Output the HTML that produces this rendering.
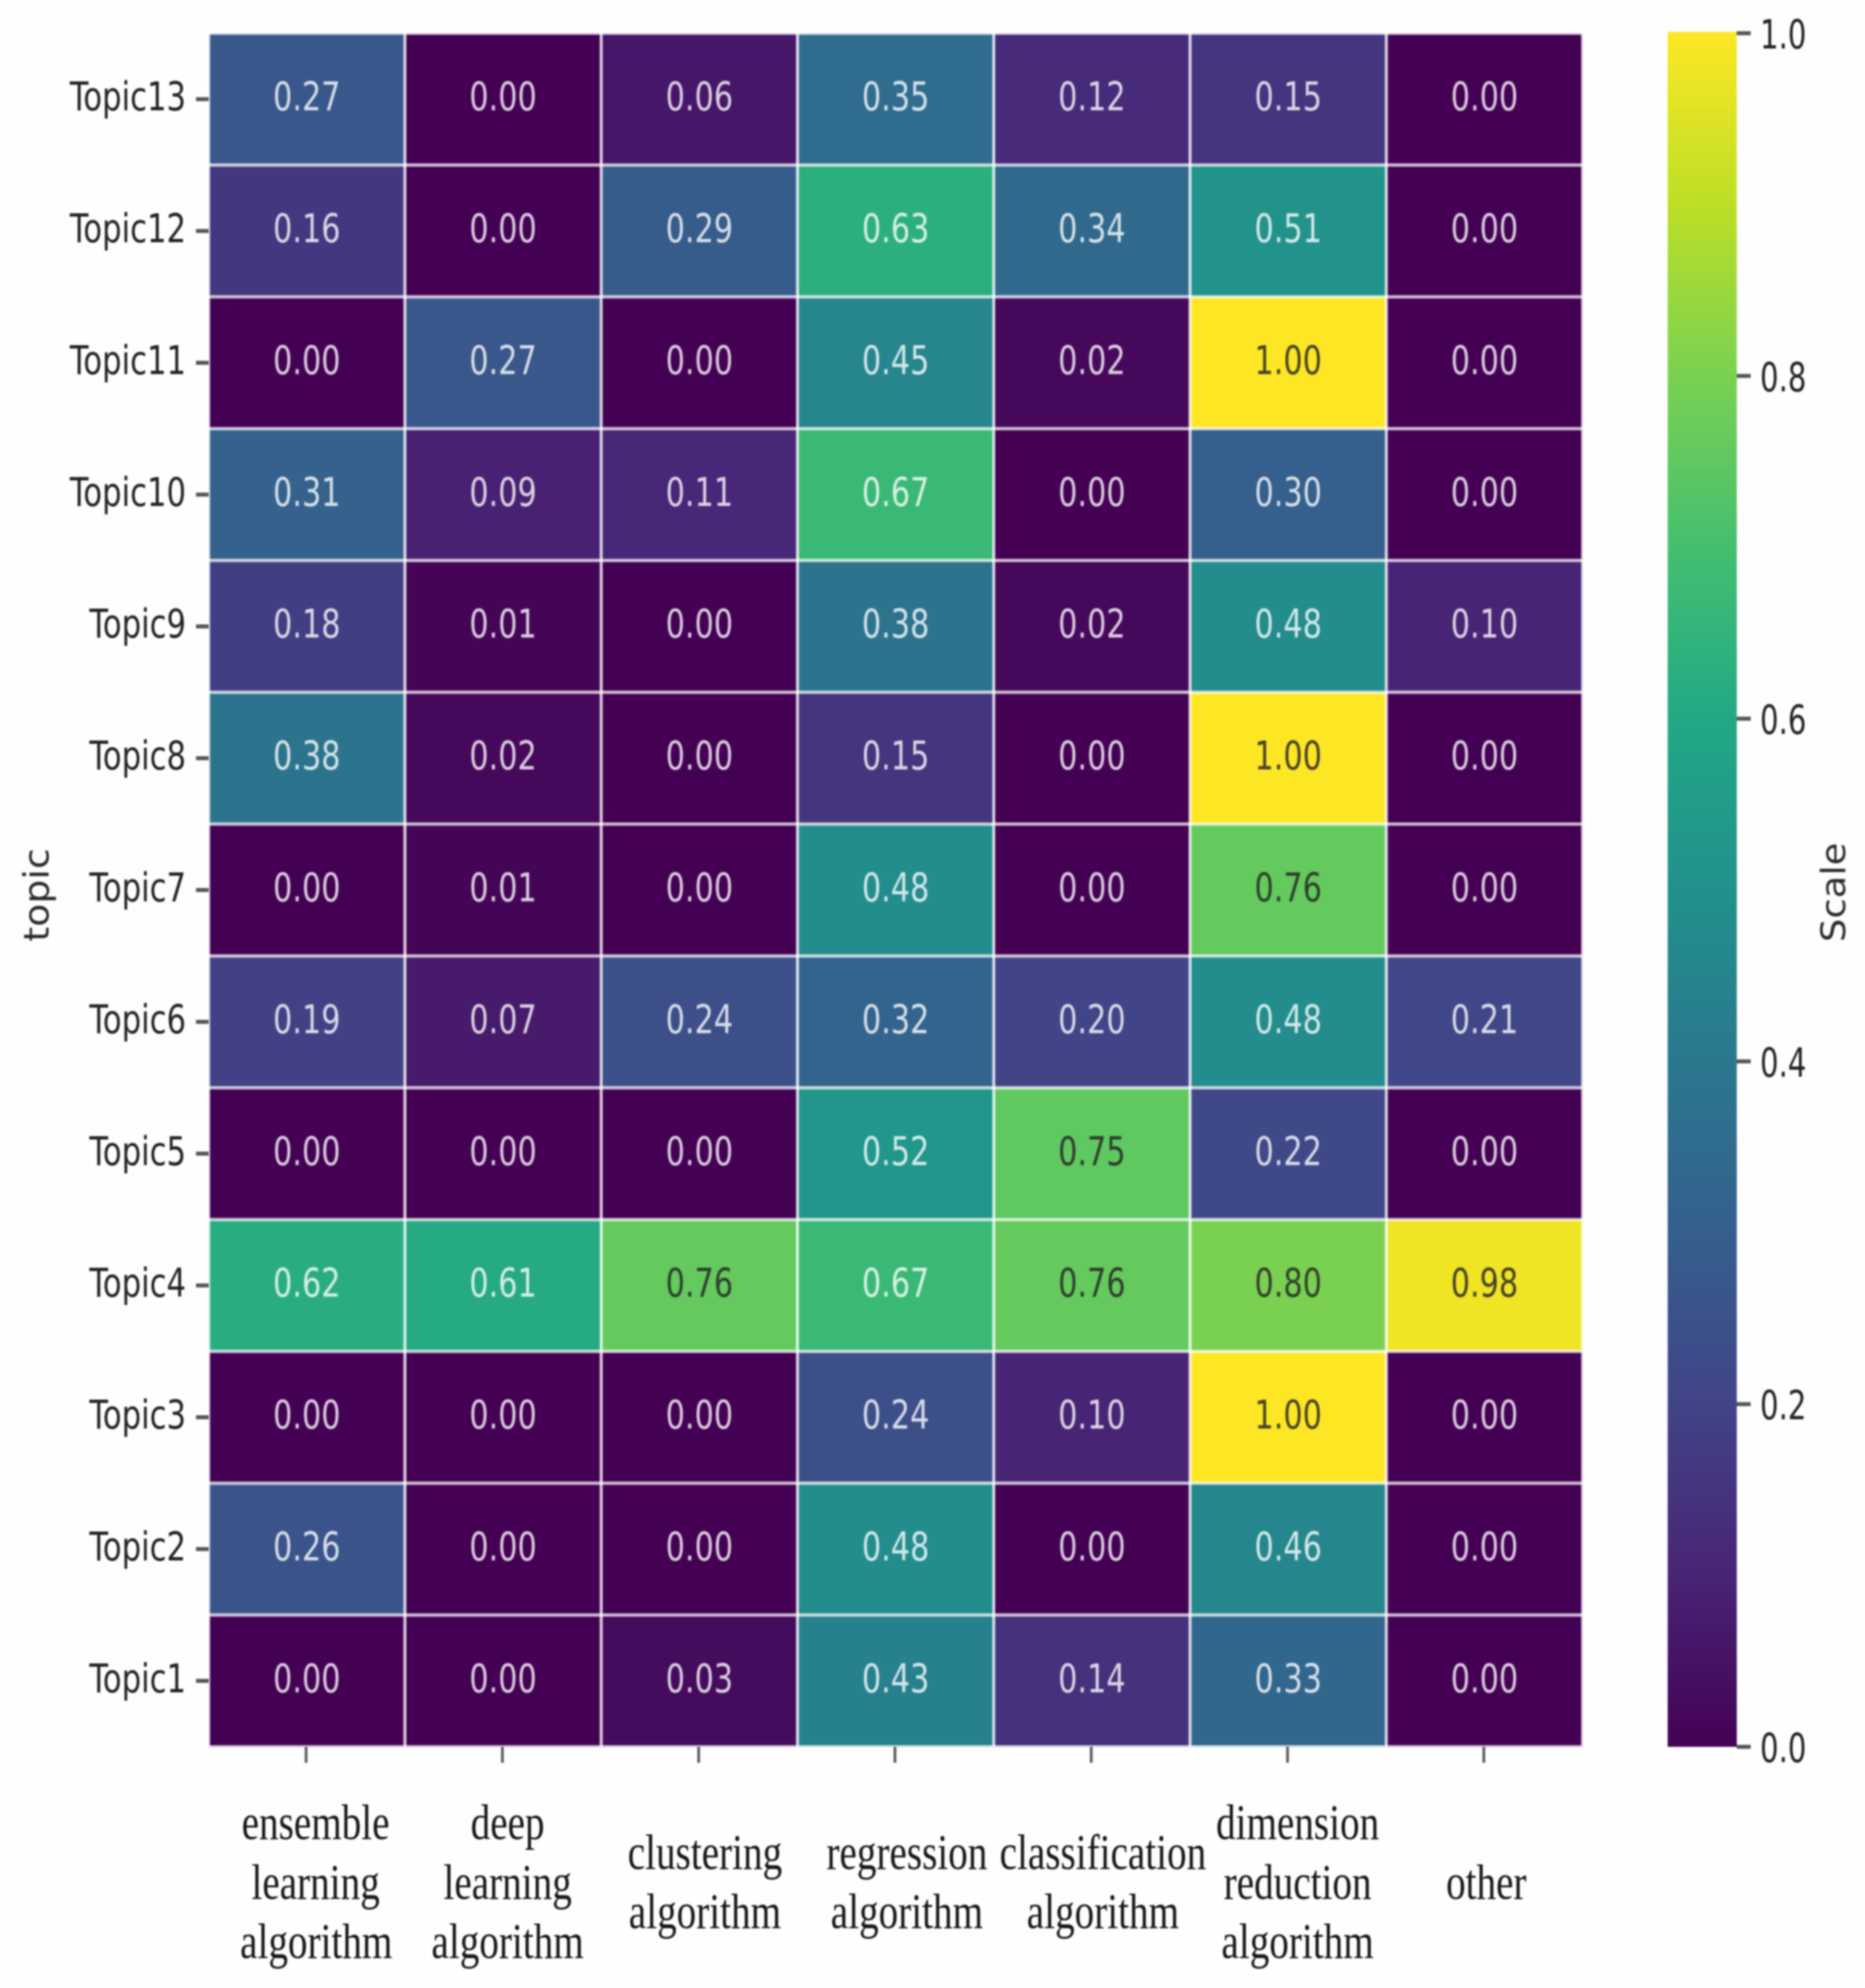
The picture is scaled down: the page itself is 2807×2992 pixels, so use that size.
<!DOCTYPE html>
<html lang="en">
<head>
<meta charset="utf-8">
<title>Topic and algorithm heatmap</title>
<style>
html,body{margin:0;padding:0;background:#fefefe;}
svg{display:block;}
.sans{font-family:"DejaVu Sans","Liberation Sans",sans-serif;}
.serif{font-family:"Liberation Serif","DejaVu Serif",serif;font-size:75px;fill:#161616;text-anchor:middle;}
</style>
</head>
<body>
<svg id="chart" xmlns="http://www.w3.org/2000/svg" width="2807" height="2992" viewBox="0 0 2807 2992">
  <defs>
    <filter id="soft" x="0" y="0" width="2807" height="2992" filterUnits="userSpaceOnUse" color-interpolation-filters="sRGB">
      <feGaussianBlur stdDeviation="1.4"/>
    </filter>
    <linearGradient id="cbar-gradient" x1="0" y1="1" x2="0" y2="0"></linearGradient>
  </defs>
  <g id="plot" filter="url(#soft)">
    <g id="cells"></g>
    <g id="grid"></g>
    <g id="annotations"></g>
    <g id="yaxis"></g>
    <g id="xaxis"></g>
    <g id="colorbar"></g>

    <text class="sans" transform="translate(73,1347) rotate(-90) scale(1,0.93)" font-size="57" fill="#2b2b2b" text-anchor="middle">topic</text>
    <text class="sans" transform="translate(2777,1343) rotate(-90) scale(1,0.91)" font-size="55.7" fill="#2b2b2b" text-anchor="middle">Scale</text>

    <g>
      <g>
        <text class="serif" transform="translate(475,2768) scale(0.786,1)">ensemble</text>
        <text class="serif" transform="translate(475,2858) scale(0.786,1)">learning</text>
        <text class="serif" transform="translate(476,2947) scale(0.786,1)">algorithm</text>
      </g>
      <g>
        <text class="serif" transform="translate(764,2768) scale(0.786,1)">deep</text>
        <text class="serif" transform="translate(764,2858) scale(0.786,1)">learning</text>
        <text class="serif" transform="translate(764,2947) scale(0.786,1)">algorithm</text>
      </g>
      <g>
        <text class="serif" transform="translate(1061,2813) scale(0.786,1)">clustering</text>
        <text class="serif" transform="translate(1061,2902) scale(0.786,1)">algorithm</text>
      </g>
      <g>
        <text class="serif" transform="translate(1365,2813) scale(0.786,1)">regression</text>
        <text class="serif" transform="translate(1365,2902) scale(0.786,1)">algorithm</text>
      </g>
      <g>
        <text class="serif" transform="translate(1660,2813) scale(0.786,1)">classification</text>
        <text class="serif" transform="translate(1660,2902) scale(0.786,1)">algorithm</text>
      </g>
      <g>
        <text class="serif" transform="translate(1953,2768) scale(0.786,1)">dimension</text>
        <text class="serif" transform="translate(1953,2858) scale(0.786,1)">reduction</text>
        <text class="serif" transform="translate(1953,2947) scale(0.786,1)">algorithm</text>
      </g>
      <g>
        <text class="serif" transform="translate(2237,2858) scale(0.786,1)">other</text>
      </g>
    </g>
  </g>
</svg>
<script>
const topics = ["Topic13","Topic12","Topic11","Topic10","Topic9","Topic8","Topic7","Topic6","Topic5","Topic4","Topic3","Topic2","Topic1"];
const algorithms = ["ensemble learning algorithm","deep learning algorithm","clustering algorithm","regression algorithm","classification algorithm","dimension reduction algorithm","other"];
const topic13Values = [0.27,0.00,0.06,0.35,0.12,0.15,0.00];
const topic12Values = [0.16,0.00,0.29,0.63,0.34,0.51,0.00];
const topic11Values = [0.00,0.27,0.00,0.45,0.02,1.00,0.00];
const topic10Values = [0.31,0.09,0.11,0.67,0.00,0.30,0.00];
const topic9Values  = [0.18,0.01,0.00,0.38,0.02,0.48,0.10];
const topic8Values  = [0.38,0.02,0.00,0.15,0.00,1.00,0.00];
const topic7Values  = [0.00,0.01,0.00,0.48,0.00,0.76,0.00];
const topic6Values  = [0.19,0.07,0.24,0.32,0.20,0.48,0.21];
const topic5Values  = [0.00,0.00,0.00,0.52,0.75,0.22,0.00];
const topic4Values  = [0.62,0.61,0.76,0.67,0.76,0.80,0.98];
const topic3Values  = [0.00,0.00,0.00,0.24,0.10,1.00,0.00];
const topic2Values  = [0.26,0.00,0.00,0.48,0.00,0.46,0.00];
const topic1Values  = [0.00,0.00,0.03,0.43,0.14,0.33,0.00];
const seriesValues = [topic13Values,topic12Values,topic11Values,topic10Values,topic9Values,topic8Values,topic7Values,topic6Values,topic5Values,topic4Values,topic3Values,topic2Values,topic1Values];
const colorbarTicks = [0.0,0.2,0.4,0.6,0.8,1.0];
const viridisColors = ["#440154","#482475","#414487","#355f8d","#2a788e","#21918c","#22a884","#44bf70","#7ad151","#bddf26","#fde725"];

const NS = "http://www.w3.org/2000/svg";
const plotLeft = 314, plotRight = 2382, plotTop = 50, plotBottom = 2629;
const cellW = (plotRight - plotLeft) / algorithms.length;
const cellH = (plotBottom - plotTop) / topics.length;
const cbarLeft = 2510, cbarRight = 2614, cbarMin = 0, cbarMax = 1;

function xEdge(i){ return plotLeft + i * cellW; }
function yEdge(j){ return plotTop + j * cellH; }
function xCenter(i){ return xEdge(i + 0.5); }
function yCenter(j){ return yEdge(j + 0.5); }
function cbarY(v){ return plotBottom - (v - cbarMin) / (cbarMax - cbarMin) * (plotBottom - plotTop); }

function hexToRgb(h){ return [1,3,5].map(function(k){ return parseInt(h.substr(k,2),16); }); }
function colormap(v){
  var t = Math.max(0, Math.min(1, v)) * (viridisColors.length - 1);
  var a = Math.min(Math.floor(t), viridisColors.length - 2);
  var f = t - a;
  var c0 = hexToRgb(viridisColors[a]), c1 = hexToRgb(viridisColors[a + 1]);
  return "rgb(" + c0.map(function(c,k){ return Math.round(c + (c1[k] - c) * f); }).join(",") + ")";
}
function make(tag, parent, attrs){
  var el = document.createElementNS(NS, tag);
  Object.keys(attrs).forEach(function(k){ el.setAttribute(k, attrs[k]); });
  parent.appendChild(el);
  return el;
}

var cellsG = document.getElementById("cells");
var gridG = document.getElementById("grid");
var annG = document.getElementById("annotations");
var yaxisG = document.getElementById("yaxis");
var xaxisG = document.getElementById("xaxis");
var cbarG = document.getElementById("colorbar");

seriesValues.forEach(function(row, j){
  row.forEach(function(val, i){
    var cell = make("rect", cellsG, {x: xEdge(i), y: yEdge(j), width: cellW + 0.5, height: cellH + 0.5, fill: colormap(val)});
    
    

    var dark = val >= 0.7;
    var label = make("text", annG, {
      "class": "sans",
      transform: "translate(" + xCenter(i) + "," + (yCenter(j) + 17) + ") scale(0.76,1)",
      "font-size": 60,
      "text-anchor": "middle",
      fill: dark ? "#262626" : "#ffffff",
      "fill-opacity": dark ? 0.85 : 0.8
    });
    label.textContent = val.toFixed(2);
    
    
  });
});

for (var gi = 0; gi <= algorithms.length; gi++) {
  var vLine = make("line", gridG, {x1: xEdge(gi), x2: xEdge(gi), y1: plotTop, y2: plotBottom, stroke: "#ffffff", "stroke-width": 4.5, "stroke-opacity": 0.8});
  
  
}
for (var gj = 0; gj <= topics.length; gj++) {
  var hLine = make("line", gridG, {x1: plotLeft, x2: plotRight, y1: yEdge(gj), y2: yEdge(gj), stroke: "#ffffff", "stroke-width": 5, "stroke-opacity": 0.72});
  
  
}

topics.forEach(function(name, j){
  var tick = make("line", yaxisG, {x1: 295, x2: 314, y1: yCenter(j), y2: yCenter(j), stroke: "#555", "stroke-width": 6});
  
  

  var label = make("text", yaxisG, {
    "class": "sans",
    transform: "translate(280," + (yCenter(j) + 17) + ") scale(0.77,1)",
    "font-size": 60,
    "text-anchor": "end",
    fill: "#222222"
  });
  label.textContent = name;
  
  
});

algorithms.forEach(function(name, i){
  var tick = make("line", xaxisG, {x1: xCenter(i) - 1, x2: xCenter(i) - 1, y1: plotBottom, y2: plotBottom + 24, stroke: "#555", "stroke-width": 4});
  
  
});

var gradient = document.getElementById("cbar-gradient");
viridisColors.forEach(function(c, k){
  make("stop", gradient, {offset: k / (viridisColors.length - 1), "stop-color": c});
});
var cbarRect = make("rect", cbarG, {x: cbarLeft, y: cbarY(cbarMax) - 2, width: cbarRight - cbarLeft, height: cbarY(cbarMin) - cbarY(cbarMax) + 2, fill: "url(#cbar-gradient)"});



colorbarTicks.forEach(function(v){
  var tick = make("line", cbarG, {x1: cbarRight, x2: cbarRight + 21, y1: cbarY(v), y2: cbarY(v), stroke: "#555", "stroke-width": 6});
  
  

  var label = make("text", cbarG, {
    "class": "sans",
    transform: "translate(2649," + (cbarY(v) + 23) + ") scale(0.72,1)",
    "font-size": 61,
    fill: "#222222"
  });
  label.textContent = v.toFixed(1);
  
  
});
</script>
</body>
</html>
